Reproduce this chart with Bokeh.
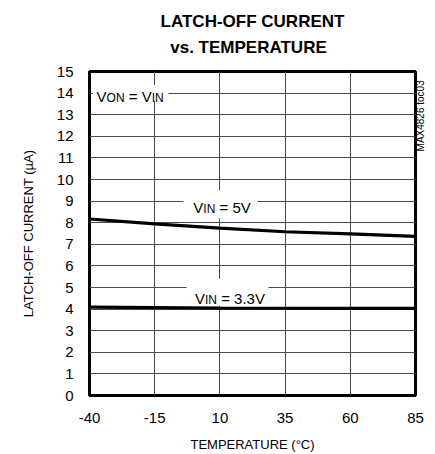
import math
from bokeh.plotting import figure
from bokeh.models import Range1d, FixedTicker, Label, BoxAnnotation, LinearAxis
from bokeh.layouts import column, row
from bokeh.embed import file_html
from bokeh.resources import INLINE

# ---- data ----
temps = [-40, -15, 10, 35, 60, 85]
i_5v = [8.17, 7.95, 7.75, 7.58, 7.48, 7.37]
i_33v = [4.09, 4.07, 4.05, 4.04, 4.03, 4.03]
x_ticks = [-40, -15, 10, 35, 60, 85]
y_ticks = list(range(0, 16))
title_lines = ["LATCH-OFF CURRENT", "vs. TEMPERATURE"]
x_title = "TEMPERATURE (°C)"
y_title = "LATCH-OFF CURRENT (µA)"
note = "MAX4826 toc03"

FONT = "Liberation Sans"
NB = "\u00a0"

# ---- title strip ----
tf = figure(width=435, height=60, x_range=Range1d(0, 435), y_range=Range1d(0, 60),
            output_backend="svg", toolbar_location=None, title=None,
            x_axis_type=None, y_axis_type=None, min_border=0,
            min_border_left=0, min_border_right=0, min_border_top=0, min_border_bottom=0)
tf.outline_line_color = None
tf.xgrid.visible = False
tf.ygrid.visible = False
tf.border_fill_color = "white"
tf.add_layout(Label(x=252, y=39, text=title_lines[0], text_font=FONT,
                    text_font_size="17px", text_font_style="bold",
                    text_align="center", text_baseline="middle", text_color="black"))
tf.add_layout(Label(x=248, y=13, text=title_lines[1], text_font=FONT,
                    text_font_size="17px", text_font_style="bold",
                    text_align="center", text_baseline="middle", text_color="black"))

# ---- main chart ----
p = figure(width=435, height=394,
           x_range=Range1d(-40, 85), y_range=Range1d(0, 15),
           output_backend="svg", toolbar_location=None, title=None,
           min_border_left=89, min_border_right=20,
           min_border_top=11, min_border_bottom=58)
p.background_fill_color = "white"
p.border_fill_color = "white"
p.outline_line_color = "black"
p.outline_line_width = 3

for ax in (p.xaxis[0], p.yaxis[0]):
    ax.axis_line_color = None
    ax.major_tick_line_color = None
    ax.minor_tick_line_color = None
    ax.major_tick_out = 0
    ax.major_tick_in = 0
    ax.major_label_text_font = FONT
    ax.major_label_text_font_size = "15px"
    ax.major_label_text_color = "black"
    ax.axis_label_text_font = FONT
    ax.axis_label_text_font_size = "13px"
    ax.axis_label_text_font_style = "normal"
    ax.axis_label_text_color = "black"

p.xaxis[0].ticker = FixedTicker(ticks=x_ticks)
p.yaxis[0].ticker = FixedTicker(ticks=y_ticks)
p.xaxis[0].major_label_overrides = {t: str(t) for t in x_ticks}
p.xaxis[0].major_label_standoff = 17
p.yaxis[0].major_label_standoff = 16
p.xaxis[0].axis_label = x_title
p.yaxis[0].axis_label = y_title
p.xaxis[0].axis_label_standoff = 11
p.yaxis[0].axis_label_standoff = 18

p.xgrid[0].ticker = FixedTicker(ticks=x_ticks)
p.ygrid[0].ticker = FixedTicker(ticks=y_ticks)
for g in (p.xgrid[0], p.ygrid[0]):
    g.grid_line_color = "#4a4a4a"
    g.grid_line_width = 1
    g.grid_line_alpha = 1

p.line(temps, i_5v, line_color="black", line_width=3.2)
p.line(temps, i_33v, line_color="black", line_width=3.2)

# white boxes behind curve labels
for l, r, b, t in [(-38.8, -9.7, 13.65, 14.38), (-4.0, 24.4, 8.2, 9.5), (-2.8, 28.6, 4.16, 5.4)]:
    p.add_layout(BoxAnnotation(left=l, right=r, bottom=b, top=t,
                               fill_color="white", fill_alpha=1,
                               line_color=None, level="annotation"))

AW = {'V': .667, 'O': .778, 'N': .722, 'I': .278, '=': .584, ' ': .278, NB: .278,
      '5': .556, '3': .556, '.': .278}
PX = 15.0 / 325.0


def rich(x, y, pieces):
    off = 0.0
    for txt, size, dy in pieces:
        p.add_layout(Label(x=x, y=y - dy * PX, x_offset=off, text=txt,
                           text_font=FONT, text_font_size=f"{size}px",
                           text_color="black", text_align="left",
                           text_baseline="alphabetic"))
        off += sum(AW.get(c, .55) for c in txt) * size


rich(-37.3, 13.86, [("V", 15, 0), ("ON", 12, 1.5), (NB + "= V", 15, 0), ("IN", 12, 1.5)])
rich(-0.2, 8.72, [("V", 15, 0), ("IN", 12, 2), (NB + "= 5V", 15, 0)])
rich(0.45, 4.51, [("V", 15, 0), ("IN", 12, 2), (NB + "= 3.3V", 15, 0)])

# side note as a right-hand axis label reading upward
note_y = 11.3
rax = LinearAxis(ticker=FixedTicker(ticks=[note_y]),
                 major_label_overrides={note_y: note},
                 major_label_orientation=math.pi / 2,
                 axis_line_color=None, major_tick_line_color=None,
                 minor_tick_line_color=None, major_tick_out=0, major_tick_in=0,
                 major_label_standoff=5, major_label_text_font=FONT,
                 major_label_text_font_size="10px", major_label_text_color="black")
p.add_layout(rax, "right")

layout = column(tf, row(p, spacing=0), spacing=0)
open("out.html", "w").write(file_html(layout, INLINE))
